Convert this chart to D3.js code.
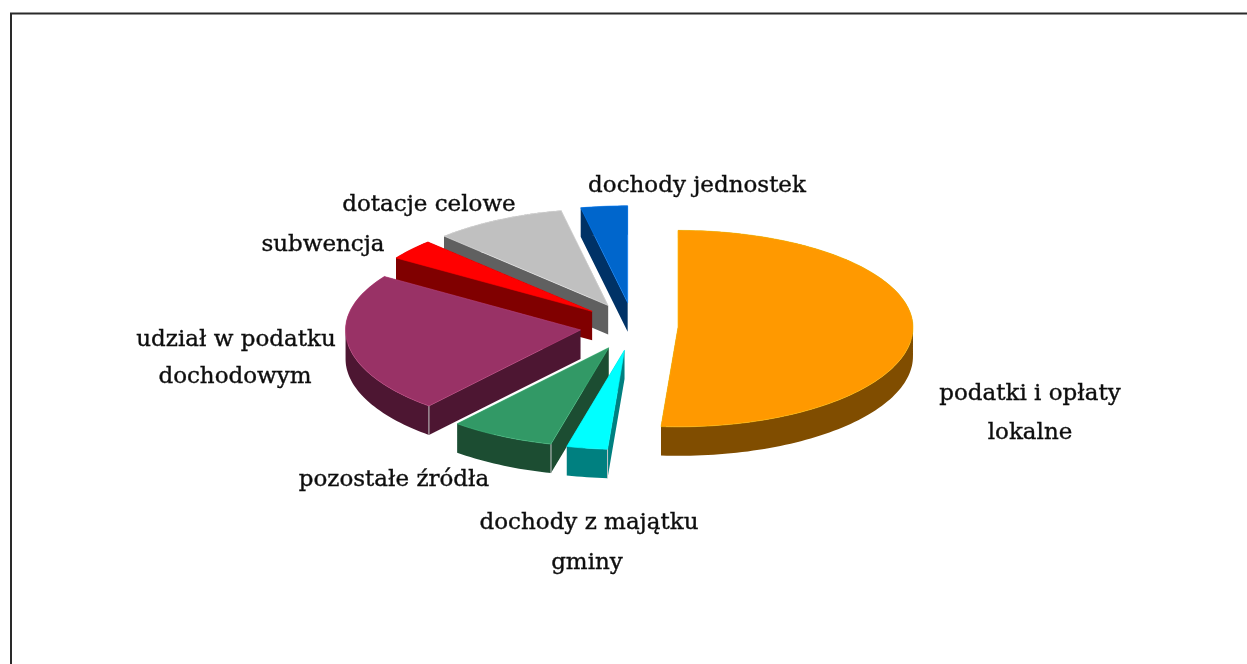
<!DOCTYPE html>
<html>
<head>
<meta charset="utf-8">
<script src="https://d3js.org/d3.v7.min.js"></script>
<style>
  body { margin: 0; padding: 0; background: #fff; overflow: hidden; }
  text { font-family: "DejaVu Serif", "Liberation Serif", serif; font-size: 23px; fill: #111; stroke: #111; stroke-width: 0.4px; }
</style>
</head>
<body>
<script>
// shares of the whole, clockwise from 12 o'clock
var names = ["podatki i opłaty lokalne", "dochody z majątku gminy", "pozostałe źródła", "udział w podatku dochodowym", "subwencja", "dotacje celowe", "dochody jednostek"];
var shares = [51.1, 2.8, 7.2, 23.1, 3.4, 9.1, 3.2];
var topColors = ["#ff9900", "#00ffff", "#339966", "#993366", "#ff0000", "#c0c0c0", "#0066cc"];
var sideColors = ["#804d00", "#008080", "#1a4d33", "#4d1933", "#800000", "#606060", "#003366"];

// label lines: text, centre x, baseline y
var labelLines = [
  ["podatki i opłaty", 1030, 400], ["lokalne", 1030, 439],
  ["dochody z majątku", 589, 529], ["gminy", 587, 569],
  ["pozostałe źródła", 394, 486],
  ["udział w podatku", 236, 346], ["dochodowym", 235, 383],
  ["subwencja", 323, 251],
  ["dotacje celowe", 429, 211],
  ["dochody jednostek", 697, 192]
];

var width = 1247, height = 664;
var cx = 633, cy = 326.5, depth = 29;

var svg = d3.select("body").append("svg")
  .attr("width", width)
  .attr("height", height);

// the source is a slightly soft bitmap
var defs = svg.append("defs");
defs.append("filter").attr("id", "soft")
  .append("feGaussianBlur").attr("stdDeviation", 0.45);

var root = svg.append("g").attr("filter", "url(#soft)");

// frame
root.append("path")
  .attr("d", d3.line()([[11, height + 5], [11, 13.5], [width + 5, 13.5]]))
  .attr("fill", "none")
  .attr("stroke", "#2a2a2a")
  .attr("stroke-width", 2);

// tilted disc: unit circle to screen, a bit larger towards the viewer
var sx = d3.scaleLinear().domain([-1, 1]).range([-235, 235]);
var sy = d3.scaleLinear().domain([-1, 0, 1]).range([-97, 0, 99.5]);
// how far a slice is pulled out along its middle angle
var ex = d3.scaleLinear().domain([-1, 0, 1]).range([-53, 0, 45]);
var ey = d3.scaleLinear().domain([-1, 1]).range([-23.8, 23.8]);

var pie = d3.pie().sort(null).value(d => d.share);
var line = d3.line();

var slices = pie(shares.map((s, i) => ({ share: s, i: i })));

slices.forEach(s => {
  s.mid = (s.startAngle + s.endAngle) / 2;
  s.apex = [cx + ex(Math.sin(s.mid)), cy + ey(-Math.cos(s.mid))];
  var n = Math.ceil((s.endAngle - s.startAngle) * 40);
  s.rim = d3.range(n + 1).map(k => {
    var a = s.startAngle + (s.endAngle - s.startAngle) * k / n;
    return [s.apex[0] + sx(Math.sin(a)), s.apex[1] + sy(-Math.cos(a))];
  });
});

// back to front
slices.sort((a, b) => d3.ascending(a.apex[1], b.apex[1]));

var down = p => [p[0], p[1] + depth];

// one quad of a wall, always wound the same way so overlaps don't cancel
function quad(p, q) {
  var pts = [p, q, down(q), down(p)];
  if (d3.polygonArea(pts) < 0) pts.reverse();
  return line(pts) + "Z";
}

var g = root.selectAll(".slice")
  .data(slices)
  .enter().append("g")
  .attr("class", "slice");

// walls: rim band and the two cut faces
g.append("path")
  .attr("d", d => {
    var outline = [d.apex].concat(d.rim, [d.apex]);
    return outline.slice(0, -1).map((p, i) => quad(p, outline[i + 1])).join("");
  })
  .attr("fill", d => sideColors[d.data.i]);

// pale corner where the cut face meets the rim on the front-left slices
g.filter(d => Math.cos(d.startAngle) < 0 && Math.sin(d.startAngle) < 0)
  .append("path")
  .attr("d", d => line([d.rim[0], down(d.rim[0])]))
  .attr("stroke", "#c8c8c8")
  .attr("stroke-width", 1)
  .attr("fill", "none");

// top face
g.append("path")
  .attr("d", d => line([d.apex].concat(d.rim)) + "Z")
  .attr("fill", d => topColors[d.data.i])
  .attr("stroke", d => d3.color(topColors[d.data.i]).brighter(0.6))
  .attr("stroke-width", 0.6);

root.selectAll(".label")
  .data(labelLines)
  .enter().append("text")
  .attr("class", "label")
  .attr("x", d => d[1])
  .attr("y", d => d[2])
  .attr("text-anchor", "middle")
  .text(d => d[0]);
</script>
</body>
</html>
